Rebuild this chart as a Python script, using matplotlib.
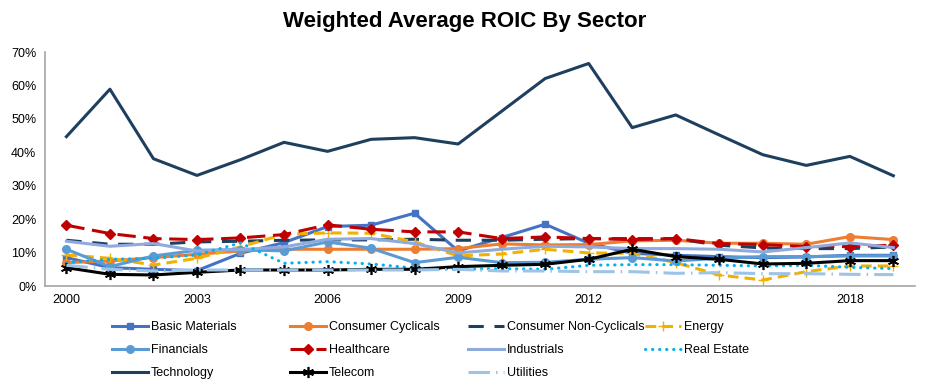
import numpy as np
from matplotlib import pyplot as plt
from matplotlib.lines import Line2D

plt.rcParams['font.family'] = ['Liberation Sans', 'DejaVu Sans']

years = list(range(2000, 2020))
xticks = [2000, 2003, 2006, 2009, 2012, 2015, 2018]

basic_materials = [8.5, 5.5, 5.0, 4.6, 9.8, 13.0, 17.8, 18.2, 21.8, 10.5,
                   14.5, 18.5, 12.8, 9.8, 9.2, 8.8, 8.5, 8.7, 9.2, 9.2]
consumer_cyclicals = [7.0, 7.5, 8.5, 9.5, 10.5, 11.0, 11.0, 11.0, 11.0, 11.2,
                      12.6, 12.3, 12.4, 13.5, 13.7, 12.8, 12.8, 12.5, 14.8, 13.9]
consumer_noncyclicals = [13.7, 12.5, 12.5, 13.2, 13.4, 13.7, 13.8, 13.8, 14.0, 13.7,
                         13.7, 14.0, 14.2, 14.2, 14.2, 12.2, 11.4, 11.2, 11.2, 11.7]
energy = [9.3, 8.3, 6.3, 8.3, 11.7, 15.5, 15.9, 15.8, 13.2, 9.0,
          9.6, 11.0, 9.9, 9.8, 7.0, 3.3, 1.8, 4.3, 6.0, 6.0]
financials = [11.0, 5.8, 9.0, 10.7, 10.9, 10.5, 13.2, 11.3, 7.0, 8.6,
              7.0, 7.1, 8.0, 8.5, 7.5, 8.3, 8.8, 8.8, 9.0, 9.0]
healthcare = [18.2, 15.7, 14.2, 13.9, 14.4, 15.4, 18.3, 17.0, 16.2, 16.2,
              14.2, 14.7, 14.2, 13.9, 14.2, 12.7, 12.4, 11.8, 11.8, 12.2]
industrials = [13.4, 11.9, 12.7, 10.5, 10.9, 11.7, 14.0, 14.2, 12.7, 9.9,
               11.0, 11.9, 11.7, 11.2, 11.2, 11.0, 10.2, 11.5, 12.9, 11.5]
real_estate = [7.0, 8.0, 8.3, 9.3, 12.9, 6.8, 7.3, 6.6, 5.4, 5.0,
               5.2, 5.0, 6.2, 6.4, 6.4, 6.2, 6.0, 6.2, 5.6, 5.2]
technology = [44.7, 58.9, 38.1, 33.1, 37.8, 43.0, 40.3, 43.9, 44.4, 42.5,
              52.3, 62.1, 66.6, 47.4, 51.2, 45.2, 39.3, 36.1, 38.8, 33.0]
telecom = [5.5, 3.5, 3.3, 4.1, 4.8, 4.8, 4.8, 5.0, 5.0, 5.8,
           6.2, 6.5, 8.0, 11.0, 8.8, 8.0, 6.6, 6.8, 7.6, 7.6]
utilities = [6.2, 5.0, 4.5, 4.8, 4.8, 4.8, 4.8, 4.8, 4.8, 5.0,
             4.5, 4.5, 4.3, 4.3, 3.8, 4.0, 3.7, 3.7, 3.5, 3.4]

fig = plt.figure(figsize=(9.3, 3.86), dpi=100)
ax = fig.add_axes([0.048, 0.259, 0.936, 0.606])

lw = 2.2
styles = [
    ('Basic Materials', basic_materials, dict(color='#4472C4', marker='s', ms=5)),
    ('Consumer Cyclicals', consumer_cyclicals, dict(color='#ED7D31', marker='o', ms=5.5)),
    ('Consumer Non-Cyclicals', consumer_noncyclicals, dict(color='#1F3F5F', dashes=(5, 3.5))),
    ('Energy', energy, dict(color='#F2B000', marker='+', ms=7, dashes=(3.5, 2))),
    ('Financials', financials, dict(color='#5B9BD5', marker='o', ms=5.5)),
    ('Healthcare', healthcare, dict(color='#C00000', marker='D', ms=5, dashes=(6, 2.5))),
    ('Industrials', industrials, dict(color='#8FAADC')),
    ('Real Estate', real_estate, dict(color='#00B0F0', dashes=(0.1, 2.2), solid_capstyle='round', dash_capstyle='round')),
    ('Technology', technology, dict(color='#1F3F5F')),
    ('Telecom', telecom, dict(color='#000000', marker=(6, 2, 0), ms=8, mew=1.2)),
    ('Utilities', utilities, dict(color='#9DC3E6', dashes=(7, 2, 0.5, 2))),
]

handles = {}
for name, vals, st in styles:
    h, = ax.plot(years, vals, lw=lw, label=name, **st)
    handles[name] = h

ax.set_xlim(1999.5, 2019.5)
ax.set_ylim(0, 70)
ax.set_yticks(range(0, 71, 10))
ax.set_yticklabels([f'{v}%' for v in range(0, 71, 10)], fontsize=9)
ax.set_xticks(xticks)
ax.set_xticklabels([str(y) for y in xticks], fontsize=9)
ax.tick_params(length=0, pad=6)
for s in ['top', 'right']:
    ax.spines[s].set_visible(False)
for s in ['left', 'bottom']:
    ax.spines[s].set_color('#A6A6A6')
    ax.spines[s].set_linewidth(1.2)

fig.text(0.5, 0.945, 'Weighted Average ROIC By Sector', ha='center', va='center',
         fontsize=16, fontweight='bold')

cols = [['Basic Materials', 'Financials', 'Technology'],
        ['Consumer Cyclicals', 'Healthcare', 'Telecom'],
        ['Consumer Non-Cyclicals', 'Industrials', 'Utilities'],
        ['Energy', 'Real Estate']]
col_x = [112, 290, 468, 645]
for names, x in zip(cols, col_x):
    fig.legend([handles[n] for n in names], names, loc='upper left',
               bbox_to_anchor=(x / 930, 1 - 321 / 386), frameon=False,
               fontsize=9, handlelength=2.9, handletextpad=0.2,
               labelspacing=0.88, borderaxespad=0, borderpad=0)

fig.savefig('out.png', dpi=100)
